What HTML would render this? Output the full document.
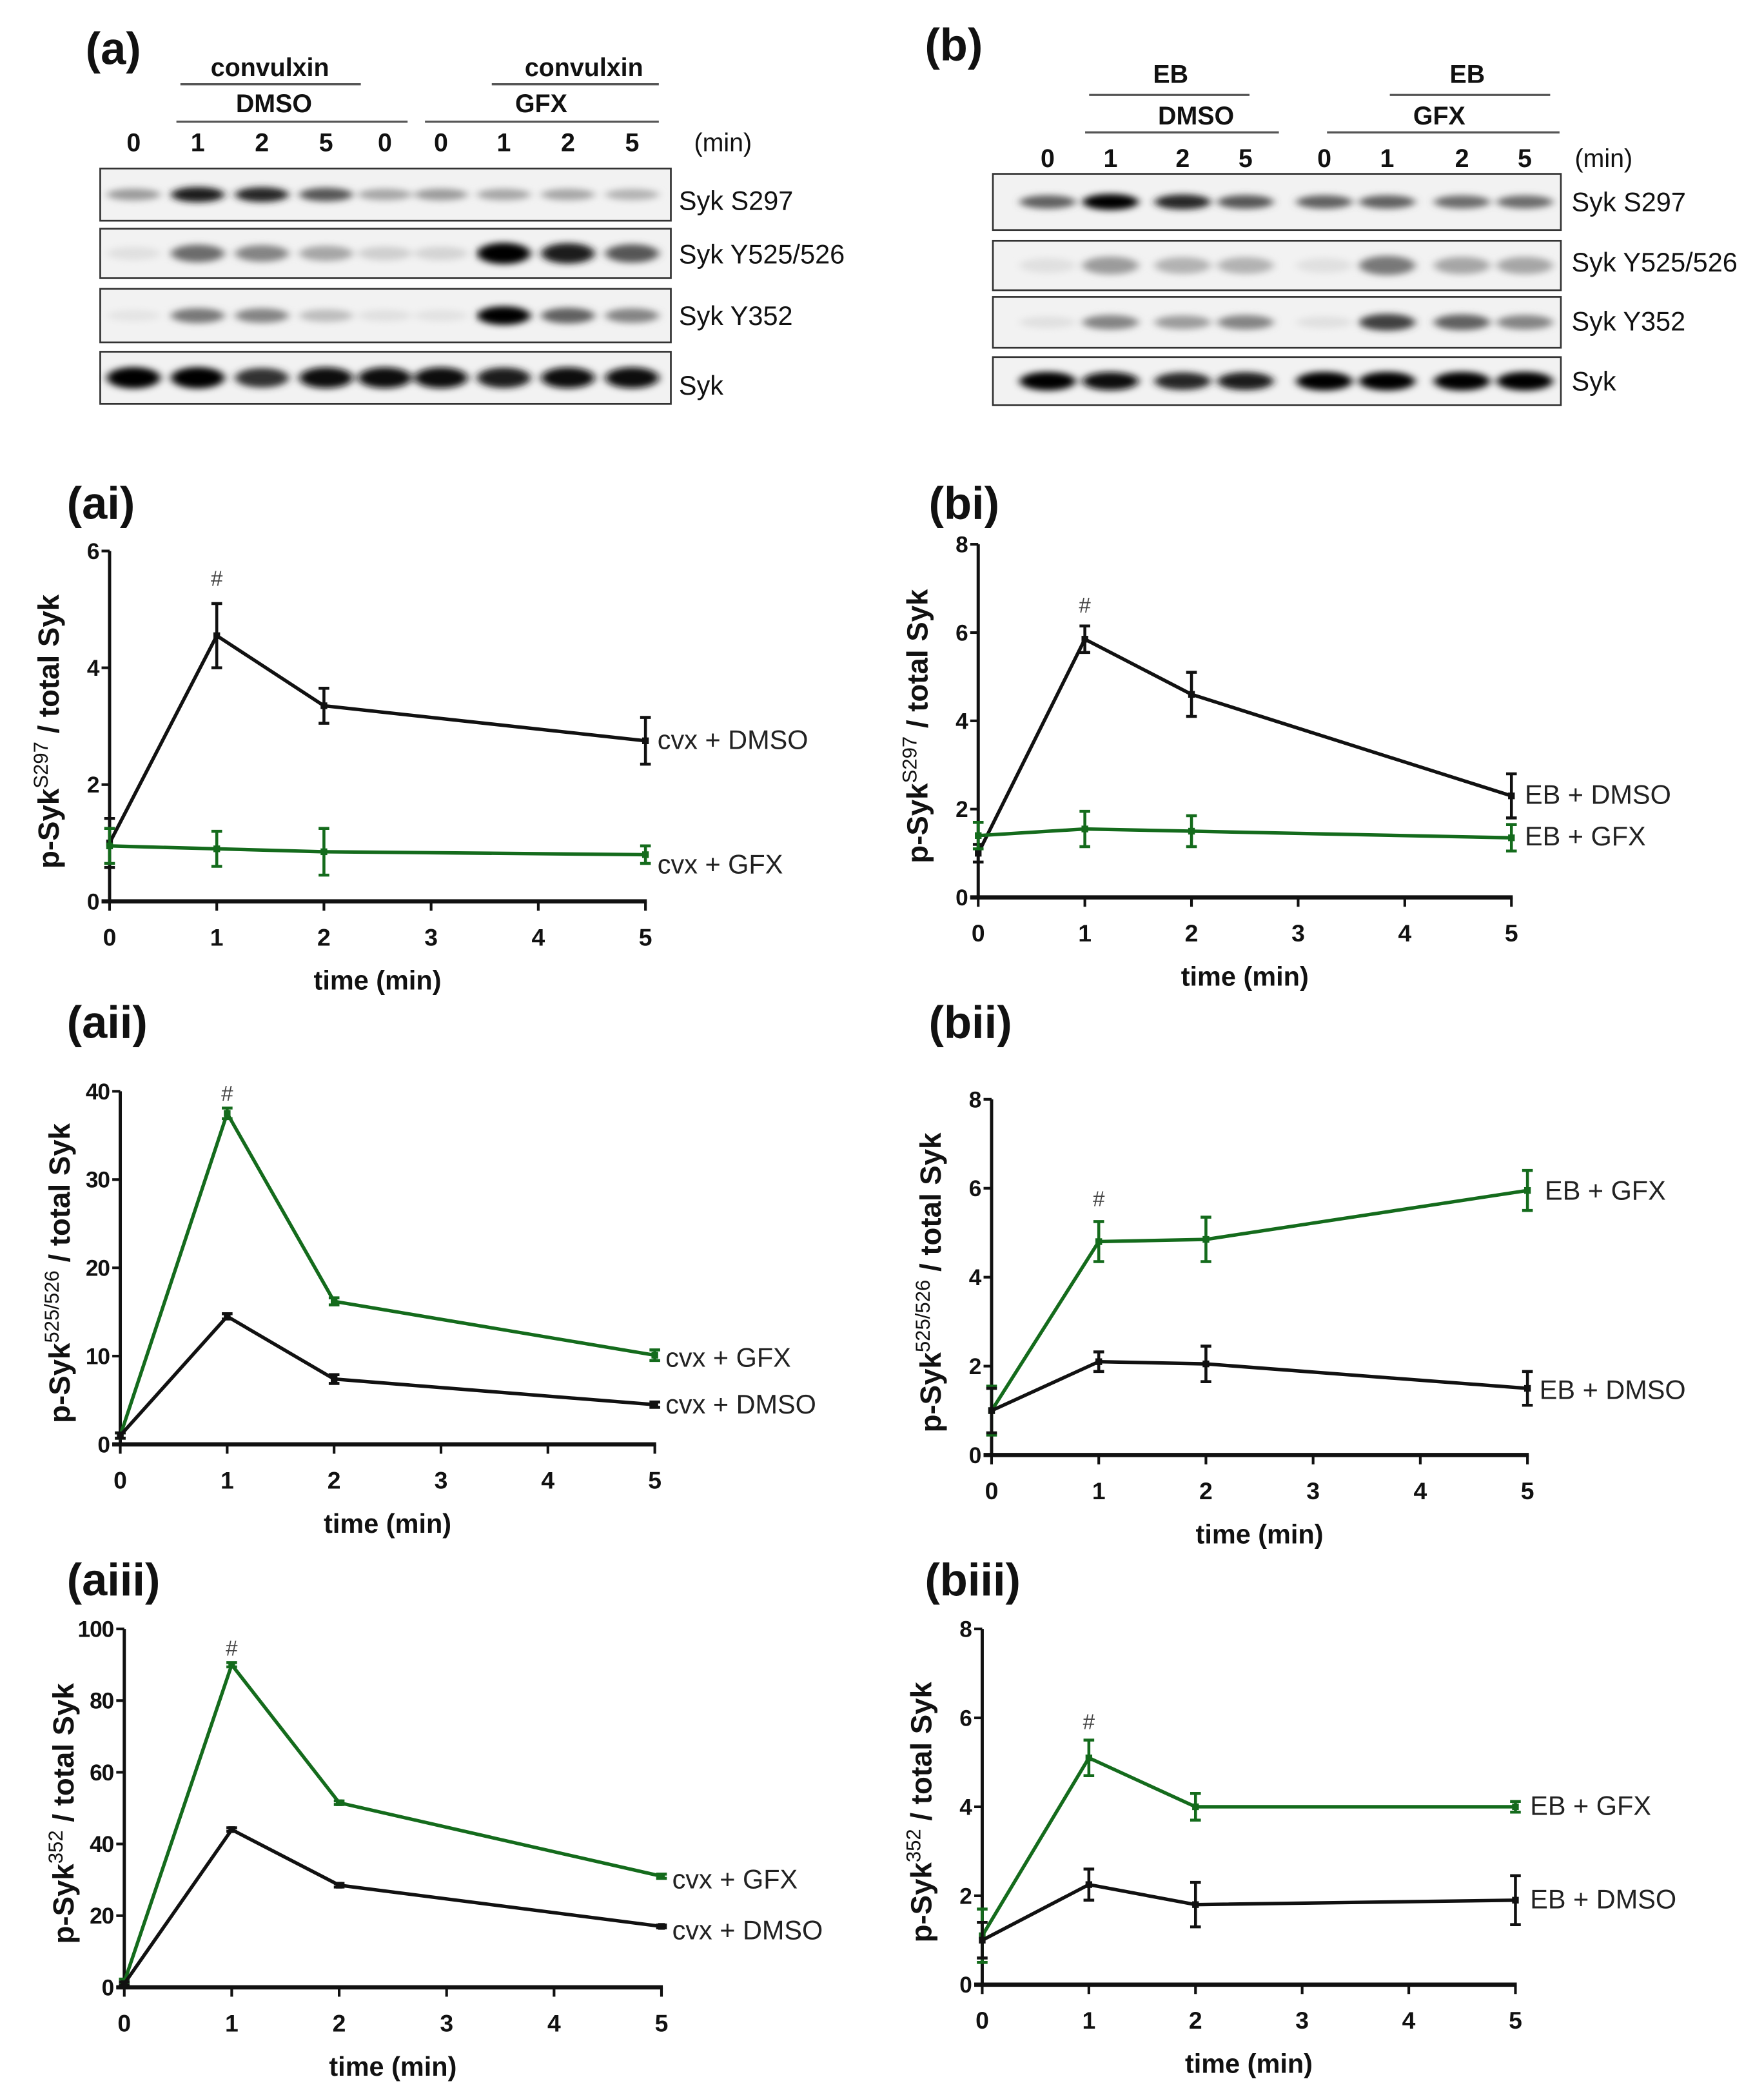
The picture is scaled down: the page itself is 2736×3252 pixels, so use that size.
<!DOCTYPE html>
<html><head><meta charset="utf-8"><style>
html,body{margin:0;padding:0;background:#fff}
svg{display:block}
text{font-family:"Liberation Sans Narrow","Liberation Sans",sans-serif}
</style></head><body>
<svg id="fig" width="2736" height="3252" viewBox="0 0 1320 1568" preserveAspectRatio="none" xmlns="http://www.w3.org/2000/svg">
<defs>
<filter id="blur" x="-50%" y="-100%" width="200%" height="300%"><feGaussianBlur stdDeviation="3.2 2.4"/></filter>
</defs>
<rect width="1320" height="1568" fill="#fff"/>
<g id="blots"></g>
<g id="charts"></g>
</svg>
<script>
// ---- Blot data (band intensities 0..1) ----
const blotA_lanes = ["0","1","2","5","0","0","1","2","5"];
const blotA_S297 = [0.35,0.9,0.85,0.65,0.3,0.35,0.3,0.3,0.25];
const blotA_Y525 = [0.05,0.55,0.45,0.3,0.12,0.1,1.0,0.9,0.65];
const blotA_Y352 = [0.03,0.5,0.45,0.2,0.05,0.04,1.0,0.6,0.45];
const blotA_Syk = [1.0,1.0,0.8,0.95,0.95,0.95,0.9,0.95,0.95];
const blotB_lanes = ["0","1","2","5","0","1","2","5"];
const blotB_S297 = [0.6,1.0,0.85,0.65,0.6,0.6,0.55,0.55];
const blotB_Y525 = [0.05,0.35,0.25,0.25,0.05,0.5,0.3,0.3];
const blotB_Y352 = [0.05,0.45,0.35,0.45,0.05,0.75,0.6,0.45];
const blotB_Syk = [1.0,0.95,0.85,0.9,1.0,1.0,1.0,1.0];

// ---- Chart data ----
const times = [0,1,2,5];
const xTicks = [0,1,2,3,4,5];
const ai_dmso = [1.0,4.55,3.35,2.75];
const ai_dmso_err = [0.42,0.55,0.3,0.4];
const ai_gfx = [0.95,0.9,0.85,0.8];
const ai_gfx_err = [0.3,0.3,0.4,0.15];
const ai_yTicks = [0,2,4,6];
const bi_dmso = [1.0,5.85,4.6,2.3];
const bi_dmso_err = [0.2,0.3,0.5,0.5];
const bi_gfx = [1.4,1.55,1.5,1.35];
const bi_gfx_err = [0.3,0.4,0.35,0.3];
const bi_yTicks = [0,2,4,6,8];
const aii_gfx = [1.0,37.5,16.2,10.1];
const aii_gfx_err = [0.3,0.6,0.4,0.6];
const aii_dmso = [1.0,14.5,7.4,4.5];
const aii_dmso_err = [0.3,0.3,0.5,0.3];
const aii_yTicks = [0,10,20,30,40];
const bii_gfx = [1.0,4.8,4.85,5.95];
const bii_gfx_err = [0.55,0.45,0.5,0.45];
const bii_dmso = [1.0,2.1,2.05,1.5];
const bii_dmso_err = [0.5,0.22,0.4,0.38];
const bii_yTicks = [0,2,4,6,8];
const aiii_gfx = [1.5,90,51.5,31];
const aiii_gfx_err = [0.8,0.6,0.5,0.6];
const aiii_dmso = [1.0,44,28.5,17];
const aiii_dmso_err = [0.5,0.5,0.5,0.4];
const aiii_yTicks = [0,20,40,60,80,100];
const biii_gfx = [1.1,5.1,4.0,4.0];
const biii_gfx_err = [0.6,0.4,0.3,0.12];
const biii_dmso = [1.0,2.25,1.8,1.9];
const biii_dmso_err = [0.4,0.35,0.5,0.55];
const biii_yTicks = [0,2,4,6,8];

const NS = "http://www.w3.org/2000/svg";
const GREEN = "#146b1c";
function mk(tag, attrs, parent){
  const e = document.createElementNS(NS, tag);
  for (const k in attrs) e.setAttribute(k, attrs[k]);
  if (parent) parent.appendChild(e);
  return e;
}
function txt(parent, x, y, s, size, weight, anchor, fill){
  const t = mk("text",{x:x,y:y,"font-size":size,"font-weight":weight||"normal","text-anchor":anchor||"start",fill:fill||"#111"},parent);
  t.textContent = s;
  return t;
}

// ---- Blots ----
const blots = document.getElementById("blots");
function blotPanel(cfg){
  const g = mk("g",{},blots);
  
  
  const pl = txt(g, cfg.labelX, cfg.labelY, cfg.label, 34, "bold");
  
  
  cfg.headers.forEach(h=>{
    const t = txt(g, h.x, h.y, h.t, 19, "bold", "middle");
    
    
    const l = mk("line",{x1:h.x1,x2:h.x2,y1:h.ly,y2:h.ly,stroke:"#555","stroke-width":1.6},g);
    
    
  });
  cfg.lanes.forEach((s,i)=>{
    const t = txt(g, cfg.laneX[i], cfg.laneY, s, 19, "bold", "middle");
    
    
  });
  const m = txt(g, cfg.minX, cfg.laneY, "(min)", 19, "normal", "middle");
  
  
  cfg.rows.forEach(r=>{
    const box = mk("rect",{x:cfg.x0,y:r.y0,width:cfg.x1-cfg.x0,height:r.y1-r.y0,fill:"#f2f2f2",stroke:"#333","stroke-width":1.3},g);
    
    
    const bg = mk("g",{filter:"url(#blur)"},g);
    const cy = (r.y0+r.y1)/2;
    r.vals.forEach((v,i)=>{
      const shade = Math.round(235 - 230*v);
      const b = mk("ellipse",{cx:cfg.laneX[i],cy:cy,rx:cfg.bandW,ry:r.bh*(0.6+0.4*v),fill:`rgb(${shade},${shade},${shade})`},bg);
      
      
    });
    const lt = txt(g, cfg.labX, r.ly, r.label, 20, "normal");
    
    
  });
}
blotPanel({name:"blot-a",label:"(a)",labelX:64,labelY:48,x0:75,x1:502,laneY:113,minX:541,labX:508,bandW:20,
  lanes:blotA_lanes,laneX:[100,148,196,244,288,330,377,425,473],
  headers:[{t:"convulxin",x:202,y:57,x1:135,x2:270,ly:63},{t:"DMSO",x:205,y:84,x1:132,x2:305,ly:91},
           {t:"convulxin",x:437,y:57,x1:368,x2:493,ly:63},{t:"GFX",x:405,y:84,x1:318,x2:493,ly:91}],
  rows:[{y0:126,y1:165,vals:blotA_S297,bh:6,label:"Syk S297",ly:157},
        {y0:171,y1:208,vals:blotA_Y525,bh:8,label:"Syk Y525/526",ly:197},
        {y0:216,y1:256,vals:blotA_Y352,bh:7,label:"Syk Y352",ly:243},
        {y0:263,y1:302,vals:blotA_Syk,bh:8,label:"Syk",ly:295}]});
blotPanel({name:"blot-b",label:"(b)",labelX:692,labelY:45,x0:743,x1:1168,laneY:125,minX:1200,labX:1176,bandW:21,
  lanes:blotB_lanes,laneX:[784,831,885,932,991,1038,1094,1141],
  headers:[{t:"EB",x:876,y:62,x1:815,x2:935,ly:71},{t:"DMSO",x:895,y:93,x1:812,x2:957,ly:99},
           {t:"EB",x:1098,y:62,x1:1040,x2:1160,ly:71},{t:"GFX",x:1077,y:93,x1:993,x2:1167,ly:99}],
  rows:[{y0:130,y1:172,vals:blotB_S297,bh:6,label:"Syk S297",ly:158},
        {y0:180,y1:217,vals:blotB_Y525,bh:9,label:"Syk Y525/526",ly:203},
        {y0:222,y1:260,vals:blotB_Y352,bh:7,label:"Syk Y352",ly:247},
        {y0:267,y1:303,vals:blotB_Syk,bh:7,label:"Syk",ly:292}]});

// ---- Charts ----
const charts = document.getElementById("charts");
function chart(c){
  const g = mk("g",{},charts);
  
  
  const xs = v => c.x0 + (c.x5 - c.x0) * v / 5;
  const ys = v => c.yb - (c.yb - c.yt) * v / c.ymax;
  const pl = txt(g, c.labelX, c.labelY, c.label, 34, "bold");
  
  
  const ya = mk("line",{x1:c.x0,x2:c.x0,y1:c.yt,y2:c.yb,stroke:"#111","stroke-width":2.4},g);
  
  
  const xa = mk("line",{x1:c.x0-6,x2:c.x5+1,y1:c.yb,y2:c.yb,stroke:"#111","stroke-width":3.2},g);
  
  
  c.yTicks.forEach(v=>{
    mk("line",{x1:c.x0-6,x2:c.x0,y1:ys(v),y2:ys(v),stroke:"#111","stroke-width":2},g);
    const t = txt(g, c.x0-8, ys(v)+6, String(v), 17, "bold", "end");
    t.setAttribute("letter-spacing","-0.5");
    
    
  });
  xTicks.forEach(v=>{
    mk("line",{x1:xs(v),x2:xs(v),y1:c.yb,y2:c.yb+7,stroke:"#111","stroke-width":2},g);
    const t = txt(g, xs(v), c.yb+33, String(v), 18, "bold", "middle");
    
    
  });
  const xt = txt(g, (c.x0+c.x5)/2, c.yb+66, "time (min)", 20, "bold", "middle");
  
  
  const yt = mk("text",{transform:`translate(${c.x0-38},${(c.yt+c.yb)/2+4}) rotate(-90)`,"font-size":22,"font-weight":"bold","text-anchor":"middle",fill:"#111",style:'font-family:"Liberation Sans",sans-serif'},g);
  
  
  const t1 = mk("tspan",{},yt); t1.textContent = "p-Syk";
  const t2 = mk("tspan",{"baseline-shift":"super","font-size":15,"font-weight":"normal"},yt); t2.textContent = c.sup;
  const t3 = mk("tspan",{"baseline-shift":"0"},yt); t3.textContent = " / total Syk";
  c.series.forEach(s=>{
    const sg = mk("g",{},g);
    
    
    const pts = times.map((t,i)=>xs(t)+","+ys(s.vals[i])).join(" ");
    const pl2 = mk("polyline",{points:pts,fill:"none",stroke:s.color,"stroke-width":2.6,"stroke-linejoin":"round"},sg);
    
    
    times.forEach((t,i)=>{
      const x = xs(t), yh = ys(s.vals[i]+s.err[i]), yl = ys(Math.max(0,s.vals[i]-s.err[i]));
      const eb = mk("path",{d:`M${x},${yh}V${yl}M${x-4},${yh}H${x+4}M${x-4},${yl}H${x+4}`,stroke:s.color,"stroke-width":2.2,fill:"none"},sg);
      
      
      const pt = mk("rect",{x:x-2.5,y:ys(s.vals[i])-2.5,width:5,height:5,fill:s.color},sg);
      
      
    });
    const lg = txt(sg, s.lx, s.ly, s.label, 20, "normal", "start", "#222");
    
    
  });
  const h = txt(g, xs(1), c.hashY, "#", 16, "normal", "middle", "#444");
  
  
}
chart({name:"chart-ai",label:"(ai)",labelX:50,labelY:388,x0:82,x5:483,yt:412,yb:674,ymax:6,yTicks:ai_yTicks,sup:"S297",hashY:438,
  series:[{name:"series-cvx-dmso",vals:ai_dmso,err:ai_dmso_err,color:"#111",label:"cvx + DMSO",lx:492,ly:560},
          {name:"series-cvx-gfx",vals:ai_gfx,err:ai_gfx_err,color:GREEN,label:"cvx + GFX",lx:492,ly:653}]});
chart({name:"chart-bi",label:"(bi)",labelX:695,labelY:388,x0:732,x5:1131,yt:407,yb:671,ymax:8,yTicks:bi_yTicks,sup:"S297",hashY:458,
  series:[{name:"series-eb-dmso",vals:bi_dmso,err:bi_dmso_err,color:"#111",label:"EB + DMSO",lx:1141,ly:601},
          {name:"series-eb-gfx",vals:bi_gfx,err:bi_gfx_err,color:GREEN,label:"EB + GFX",lx:1141,ly:632}]});
chart({name:"chart-aii",label:"(aii)",labelX:50,labelY:776,x0:90,x5:490,yt:816,yb:1080,ymax:40,yTicks:aii_yTicks,sup:"525/526",hashY:823,
  series:[{name:"series-cvx-gfx",vals:aii_gfx,err:aii_gfx_err,color:GREEN,label:"cvx + GFX",lx:498,ly:1022},
          {name:"series-cvx-dmso",vals:aii_dmso,err:aii_dmso_err,color:"#111",label:"cvx + DMSO",lx:498,ly:1057}]});
chart({name:"chart-bii",label:"(bii)",labelX:695,labelY:776,x0:742,x5:1143,yt:822,yb:1088,ymax:8,yTicks:bii_yTicks,sup:"525/526",hashY:902,
  series:[{name:"series-eb-gfx",vals:bii_gfx,err:bii_gfx_err,color:GREEN,label:"EB + GFX",lx:1156,ly:897},
          {name:"series-eb-dmso",vals:bii_dmso,err:bii_dmso_err,color:"#111",label:"EB + DMSO",lx:1152,ly:1046}]});
chart({name:"chart-aiii",label:"(aiii)",labelX:50,labelY:1193,x0:93,x5:495,yt:1218,yb:1486,ymax:100,yTicks:aiii_yTicks,sup:"352",hashY:1238,
  series:[{name:"series-cvx-gfx",vals:aiii_gfx,err:aiii_gfx_err,color:GREEN,label:"cvx + GFX",lx:503,ly:1412},
          {name:"series-cvx-dmso",vals:aiii_dmso,err:aiii_dmso_err,color:"#111",label:"cvx + DMSO",lx:503,ly:1450}]});
chart({name:"chart-biii",label:"(biii)",labelX:692,labelY:1193,x0:735,x5:1134,yt:1218,yb:1484,ymax:8,yTicks:biii_yTicks,sup:"352",hashY:1293,
  series:[{name:"series-eb-gfx",vals:biii_gfx,err:biii_gfx_err,color:GREEN,label:"EB + GFX",lx:1145,ly:1357},
          {name:"series-eb-dmso",vals:biii_dmso,err:biii_dmso_err,color:"#111",label:"EB + DMSO",lx:1145,ly:1427}]});
</script>
</body></html>
